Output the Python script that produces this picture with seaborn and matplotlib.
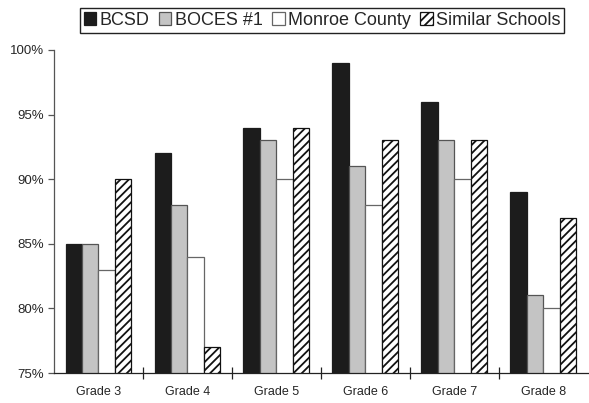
import numpy as np
import pandas as pd
import matplotlib
matplotlib.use("Agg")
import matplotlib.pyplot as plt
import matplotlib.patches as mpatches
from matplotlib.ticker import FuncFormatter, FixedLocator
import seaborn as sns

# values (percent)
grades = ['Grade 3', 'Grade 4', 'Grade 5', 'Grade 6', 'Grade 7', 'Grade 8']
groups = ['BCSD', 'BOCES #1', 'Monroe County', 'Similar Schools']
bcsd = [85, 92, 94, 99, 96, 89]
boces = [85, 88, 93, 91, 93, 81]
monroe = [83, 84, 90, 88, 90, 80]
similar = [90, 77, 94, 93, 93, 87]

df = pd.DataFrame({'Grade': grades, 'BCSD': bcsd, 'BOCES #1': boces,
                   'Monroe County': monroe, 'Similar Schools': similar})
df = df.melt(id_vars='Grade', var_name='Group', value_name='Pct')

sns.set_style("white")
plt.rcParams['font.family'] = ['Liberation Sans', 'DejaVu Sans']
plt.rcParams['hatch.linewidth'] = 1.3

faces = ['#1c1c1c', '#c4c4c4', '#ffffff', '#ffffff']
edges = ['#1c1c1c', '#555555', '#666666', '#111111']
hatches = [None, None, None, '////']

fig = plt.figure(figsize=(5.89, 4.03), dpi=100)
ax = fig.add_axes([0.0917, 0.0744, 0.906, 0.8016])

sns.barplot(data=df, x='Grade', y='Pct', hue='Group', order=grades, hue_order=groups,
            palette=faces, width=0.74, gap=0, saturation=1, legend=False, ax=ax)

for i, cont in enumerate(ax.containers):
    for bar in cont:
        bar.set_facecolor(faces[i])
        bar.set_edgecolor(edges[i])
        bar.set_linewidth(0.9)
        if hatches[i]:
            bar.set_hatch(hatches[i])

ax.set_ylim(75, 100)
ax.set_xlim(-0.5, 5.5)
ax.set_yticks([75, 80, 85, 90, 95, 100])
ax.yaxis.set_major_formatter(FuncFormatter(lambda v, p: f"{v:.0f}%"))
ax.set_xlabel('')
ax.set_ylabel('')

for s in ['top', 'right']:
    ax.spines[s].set_visible(False)
ax.spines['left'].set_color('#555555')
ax.spines['bottom'].set_color('#222222')
ax.spines['left'].set_linewidth(0.9)
ax.spines['bottom'].set_linewidth(0.9)

ax.tick_params(axis='y', direction='out', length=4, width=0.9, color='#555555',
               labelsize=9.5, pad=3, left=True)
ax.tick_params(axis='x', which='major', length=0, labelsize=9, pad=9)
ax.xaxis.set_minor_locator(FixedLocator([0.5, 1.5, 2.5, 3.5, 4.5]))
ax.tick_params(axis='x', which='minor', direction='inout', length=8, width=0.9,
               color='#222222', bottom=True)

handles = []
for i, g in enumerate(groups):
    handles.append(mpatches.Patch(facecolor=faces[i], edgecolor=edges[i],
                                  hatch=hatches[i], linewidth=0.9, label=g))
leg = fig.legend(handles=handles, loc='center', bbox_to_anchor=(0.547, 0.949),
                 ncol=4, fontsize=13, frameon=True, fancybox=False,
                 handlelength=0.7, handleheight=0.7, handletextpad=0.2,
                 columnspacing=0.5, borderpad=0.2, borderaxespad=0)
leg.get_frame().set_edgecolor('#222222')
leg.get_frame().set_linewidth(1.0)
leg.get_frame().set_alpha(1)

fig.savefig('out.png', dpi=100)
